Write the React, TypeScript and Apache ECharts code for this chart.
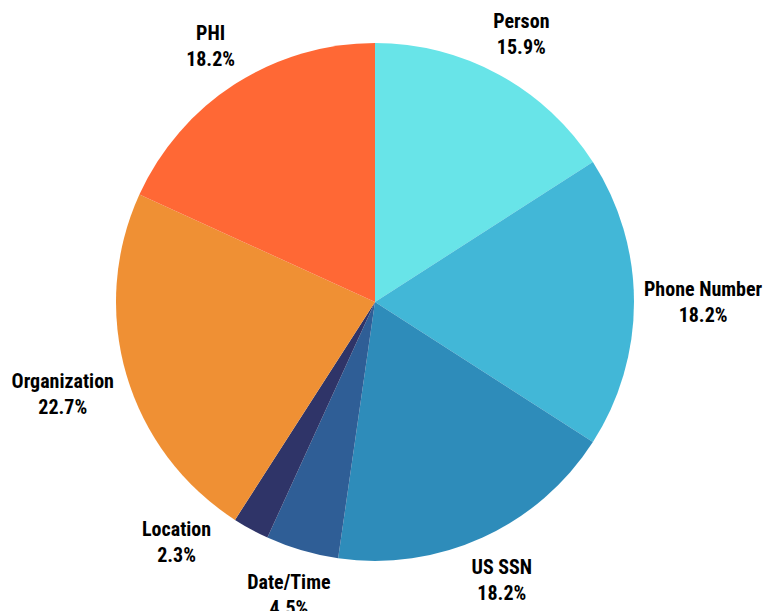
import React, { useEffect, useRef } from "react";
import * as echarts from "echarts";

const categories = ["Person", "Phone Number", "US SSN", "Date/Time", "Location", "Organization", "PHI"];
const values = [7, 8, 8, 2, 1, 10, 8];
const colors = ["#68E4E8", "#42B7D7", "#2E8CBA", "#2F5E96", "#2F3468", "#EF9034", "#FF6835"];

const CX = 375;
const CY = 302;
const R = 259;
const OFFSET = 10;
const GAP = 32;

export default function App() {
  const ref = useRef<HTMLDivElement>(null);
  useEffect(() => {
    document.body.style.margin = "0";
    const chart = echarts.init(ref.current!, undefined, { renderer: "svg" });
    const total = values.reduce((a, b) => a + b, 0);
    const placed: { x: number; y: number; w: number; h: number }[] = [];

    const overlaps = (a: any, b: any) =>
      a.x - a.w / 2 - GAP < b.x + b.w / 2 &&
      a.x + a.w / 2 + GAP > b.x - b.w / 2 &&
      a.y - a.h / 2 < b.y + b.h / 2 &&
      a.y + a.h / 2 > b.y - b.h / 2;

    const place = (angDeg: number, w: number, h: number) => {
      const a = (angDeg * Math.PI) / 180;
      const dx = Math.sin(a);
      const dy = -Math.cos(a);
      const half = Math.abs(dx) * (w / 2) + Math.abs(dy) * (h / 2);
      const d = R + OFFSET + half;
      return { x: CX + dx * d, y: CY + dy * d, w, h };
    };

    chart.setOption({
      animation: false,
      series: [
        {
          type: "pie",
          center: [CX, CY],
          radius: R,
          startAngle: 90,
          clockwise: true,
          avoidLabelOverlap: false,
          data: categories.map((c, i) => ({
            name: c,
            value: values[i],
            itemStyle: { color: colors[i] },
          })),
          label: {
            show: true,
            position: "outside",
            formatter: (p: any) => `${p.name}\n${((p.value / total) * 100).toFixed(1)}%`,
            fontFamily: "'Roboto Condensed', sans-serif",
            fontWeight: "bold",
            fontSize: 20,
            lineHeight: 26,
            color: "#000",
            align: "center",
          },
          labelLine: { show: false },
          emphasis: { disabled: true },
          labelLayout: (params: any) => {
            const i = params.dataIndex;
            if (i === 0) placed.length = 0;
            let before = 0;
            for (let k = 0; k < i; k++) before += values[k];
            let ang = ((before + values[i] / 2) / total) * 360;
            const w = params.labelRect.width;
            const h = params.labelRect.height;
            let pos = place(ang, w, h);
            let tries = 0;
            while (placed.some((p) => overlaps(pos, p)) && tries < 60) {
              ang += 1;
              pos = place(ang, w, h);
              tries++;
            }
            placed.push(pos);
            return { x: pos.x, y: pos.y, align: "center", verticalAlign: "middle" };
          },
        },
      ],
    });
    return () => chart.dispose();
  }, []);
  return <div ref={ref} style={{ width: 768, height: 611 }} />;
}
